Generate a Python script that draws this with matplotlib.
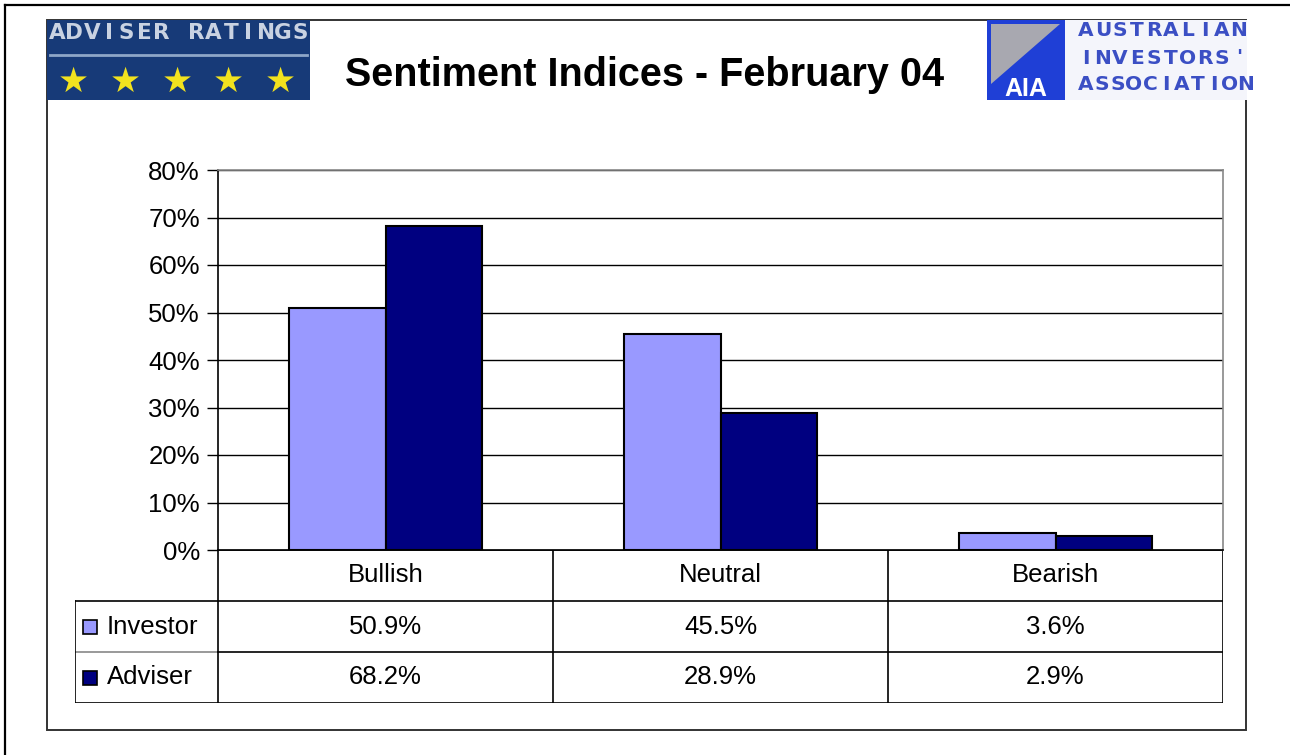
import matplotlib
matplotlib.use('Agg')
import matplotlib.pyplot as plt
from matplotlib.patches import Rectangle, Polygon
from matplotlib.lines import Line2D

categories = ['Bullish', 'Neutral', 'Bearish']
series = ['Investor', 'Adviser']
investor = [50.9, 45.5, 3.6]
adviser = [68.2, 28.9, 2.9]
colors = ['#9999FF', '#000080']
yticks = [0, 10, 20, 30, 40, 50, 60, 70, 80]
title = 'Sentiment Indices - February 04'

plt.rcParams['font.family'] = ['Liberation Sans', 'DejaVu Sans']
W, H = 1290, 755
fs = 18.5
fig = plt.figure(figsize=(W / 100, H / 100), dpi=100)


def px(x0, y0, x1, y1):
    # pixel box (top-left origin) -> figure fraction rect
    return [x0 / W, 1 - y1 / H, (x1 - x0) / W, (y1 - y0) / H]


# background overlay in pixel coords
bg = fig.add_axes([0, 0, 1, 1], zorder=0)
bg.set_xlim(0, W)
bg.set_ylim(H, 0)
bg.axis('off')

# page border and chart frame
bg.add_line(Line2D([5, W], [5, 5], color='black', lw=1.6))
bg.add_line(Line2D([5, 5], [5, H], color='black', lw=1.6))
bg.add_patch(Rectangle((47, 20), 1199, 710, fill=False, ec='#333333', lw=1.4))

# Adviser Ratings logo
bg.add_patch(Rectangle((47, 20), 263, 80, fc='#173a78', ec='none'))
word = 'ADVISER RATINGS'
for i, ch in enumerate(word):
    bg.text(57 + i * 17.4, 33, ch, color='#c9d2e2', fontsize=15.5, fontweight='bold',
            ha='center', va='center', family='DejaVu Sans')
bg.add_line(Line2D([50, 307], [55, 55], color='#8ea6c8', lw=2))
for xs in [73, 125, 177, 228, 280]:
    bg.text(xs, 82, '\u2605', color='#f2e21e', fontsize=25, ha='center', va='center',
            family='DejaVu Sans')

# AIA logo
bg.add_patch(Rectangle((987, 20), 78, 80, fc='#1f3fd6', ec='none'))
bg.add_patch(Polygon([(991, 24), (1060, 24), (991, 84)], closed=True, fc='#a8a8b0', ec='none'))
bg.text(1026, 89, 'AIA', color='white', fontsize=18, fontweight='bold', ha='center',
        va='center')
bg.add_patch(Rectangle((1065, 20), 182, 80, fc='#f4f5fb', ec='none'))
for row, word in enumerate(['AUSTRALIAN', "INVESTORS'", 'ASSOCIATION']):
    for i, ch in enumerate(word):
        bg.text(1086 + i * (17 if row < 2 else 16), 31 + row * 27, ch, color='#3b4fc4',
                fontsize=14.5, fontweight='bold', ha='center', va='center', family='DejaVu Sans')
bg.add_patch(Rectangle((1247, 20), 43, 80, fc='white', ec='none'))

fig.text(645 / W, 1 - 75 / H, title, fontsize=28.5, fontweight='bold', ha='center', va='center')

# main plot
ax = fig.add_axes(px(218, 170, 1223, 550), zorder=2)
ax.set_facecolor('none')
xs = list(range(len(categories)))
bw = 0.287
ax.bar([x - bw / 2 for x in xs], investor, bw, color=colors[0], edgecolor='black', lw=1.5,
       zorder=3)
ax.bar([x + bw / 2 for x in xs], adviser, bw, color=colors[1], edgecolor='black', lw=1.5,
       zorder=3)
ax.set_xlim(-0.5, 2.5)
ax.set_ylim(0, 80)
ax.set_yticks(yticks)
ax.set_yticklabels(['%d%%' % v for v in yticks], fontsize=fs)
ax.set_xticks([])
ax.yaxis.grid(True, color='black', lw=1)
ax.set_axisbelow(True)
ax.tick_params(axis='y', direction='out', length=8, width=1, pad=5)
for s in ['top', 'right']:
    ax.spines[s].set_color('#888888')
for s in ['left', 'bottom']:
    ax.spines[s].set_color('black')
for s in ax.spines.values():
    s.set_linewidth(1.2)

# data table underneath
tx = fig.add_axes(px(75, 550, 1223, 703), zorder=1)
x0 = -0.5 - (218 - 75) / 335.0
tx.set_xlim(x0, 2.5)
tx.set_ylim(3, 0)
tx.axis('off')
lk = dict(color='black', lw=1.2)
tx.plot([-0.5, 2.5], [0, 0], **lk)
tx.plot([x0, 2.5], [1, 1], **lk)
tx.plot([x0, -0.5], [2, 2], color='#888888', lw=1.2)
tx.plot([-0.5, 2.5], [2, 2], **lk)
tx.plot([x0, 2.5], [3, 3], **lk)
tx.plot([x0, x0], [1, 3], **lk)
for xb in [-0.5, 0.5, 1.5, 2.5]:
    tx.plot([xb, xb], [0, 3], **lk)
for i, c in enumerate(categories):
    tx.text(i, 0.5, c, ha='center', va='center', fontsize=fs)
for r, (name, vals) in enumerate(zip(series, [investor, adviser])):
    tx.plot([x0 + 0.045], [r + 1.5], marker='s', ms=10.5, mfc=colors[r], mec='black', mew=1.2,
            ls='none')
    tx.text(x0 + 0.095, r + 1.5, name, ha='left', va='center', fontsize=fs)
    for i, v in enumerate(vals):
        tx.text(i, r + 1.5, '%.1f%%' % v, ha='center', va='center', fontsize=fs)

fig.savefig('out.png', dpi=100)
